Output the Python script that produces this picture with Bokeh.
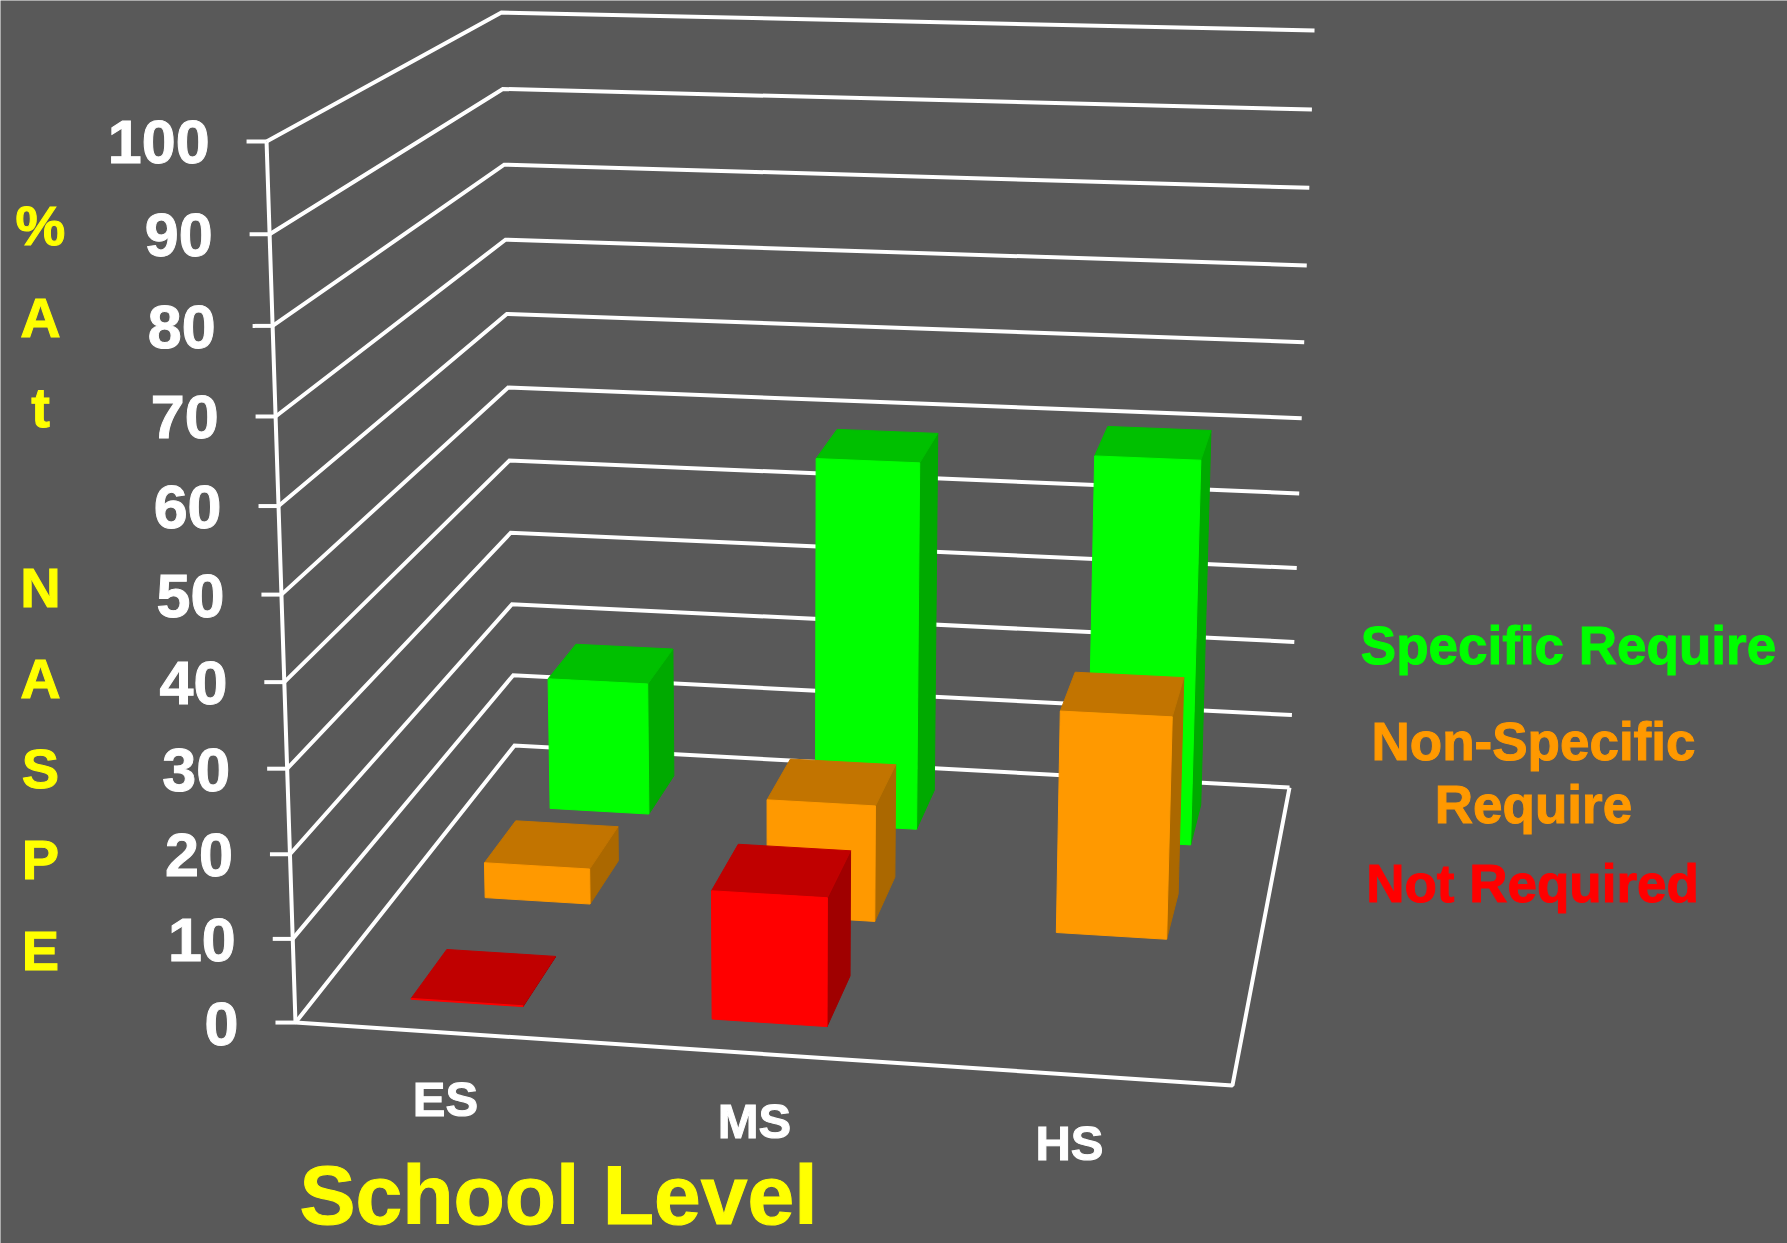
import numpy as np
from bokeh.core.properties import value
from bokeh.embed import file_html
from bokeh.models import Range1d
from bokeh.plotting import figure
from bokeh.resources import INLINE

# Chart values (percent of respondents)
school_levels = ["ES", "MS", "HS"]
specific_require = [17.6, 48.3, 50.1]
non_specific_require = [4.5, 14.6, 27.6]
not_required = [0.1, 15.3, None]
percent_ticks = list(range(0, 101, 10))
y_title_letters = ["%", "A", "t", "N", "A", "S", "P", "E"]
y_title_centres = [225, 317, 407, 587, 678, 768, 859, 950]

BG = "#595959"
WHITE = "#ffffff"
YELLOW = "#ffff00"
FONT = value("Liberation Sans")

# Series are listed from the back of the floor to the front, so nearer bars paint last
series = [
    (specific_require, 5 / 6, "#00ff00", "#00c000", "#00aa00"),
    (non_specific_require, 3 / 6, "#ff9900", "#c27400", "#ab6800"),
    (not_required, 1 / 6, "#ff0000", "#c00000", "#a00000"),
]
BAR_W = 0.125
BAR_D = 0.155

# Camera calibration: cube corners (x, depth, height) and where they land on the page
cube = [(0, 0, 0), (1, 0, 0), (1, 1, 0), (0, 1, 0), (0, 0, 1), (0, 1, 1), (1, 1, 1)]
page = [(295, 1022), (1232, 1085), (1289, 787), (514, 745), (266, 141), (501, 12), (1314, 30)]

rows, rhs = [], []
for (X, Z, Y), (u, v) in zip(cube, page):
    rows.append([X, Y, Z, 1, 0, 0, 0, 0, -u * X, -u * Y, -u * Z])
    rhs.append(u)
    rows.append([0, 0, 0, 0, X, Y, Z, 1, -v * X, -v * Y, -v * Z])
    rhs.append(v)
h = np.linalg.lstsq(np.array(rows, float), np.array(rhs, float), rcond=None)[0]
CAM = np.append(h, 1.0).reshape(3, 4)


def project(x, z, pct):
    """Map category position, depth position and percent to page coordinates."""
    a = CAM @ np.array([x, pct / 100.0, z, 1.0])
    return float(a[0] / a[2]), float(a[1] / a[2])


p = figure(
    width=1787, height=1243, output_backend="svg", toolbar_location=None,
    x_range=Range1d(0, 1787), y_range=Range1d(1243, 0),
    min_border=0, background_fill_color=BG, border_fill_color=BG, outline_line_color=None,
    x_axis_location=None, y_axis_location=None,
)
p.grid.visible = False

# Walls: front-left corner, back-left corner, back-right corner
wall_x, wall_y = [], []
for pct in percent_ticks:
    fx, fy = project(0, 0, pct)
    bx, by = project(0, 1, pct)
    rx, ry = project(1, 1, pct)
    wall_x.append([fx, bx, rx])
    wall_y.append([fy, by, ry])
p.multi_line(wall_x, wall_y, line_color=WHITE, line_width=4, line_join="miter")

# Front-left vertical and the two open floor edges
corners = [project(0, 0, 100), project(0, 0, 0), project(1, 0, 0), project(1, 1, 0)]
p.line([c[0] for c in corners], [c[1] for c in corners], line_color=WHITE, line_width=4)

# Bars as three visible faces each
for vals, zc, front, top, side in series:
    for i, v in enumerate(vals):
        if v is None:
            continue
        xc = (i + 0.5) / 3
        x0, x1 = xc - BAR_W / 2, xc + BAR_W / 2
        z0, z1 = zc - BAR_D / 2, zc + BAR_D / 2
        faces = [
            ([(x1, z0, 0), (x1, z1, 0), (x1, z1, v), (x1, z0, v)], side),
            ([(x0, z0, v), (x1, z0, v), (x1, z1, v), (x0, z1, v)], top),
            ([(x0, z0, 0), (x1, z0, 0), (x1, z0, v), (x0, z0, v)], front),
        ]
        for verts, colour in faces:
            pts = [project(*q) for q in verts]
            p.patch([q[0] for q in pts], [q[1] for q in pts], fill_color=colour, line_color=colour, line_width=1)

# Tick stubs on the front-left vertical
stub_x, stub_y = [], []
for pct in percent_ticks:
    fx, fy = project(0, 0, pct)
    stub_x.append([fx - 20, fx])
    stub_y.append([fy, fy])
p.multi_line(stub_x, stub_y, line_color=WHITE, line_width=4)

# Percent labels sit a fixed distance left of the front-left vertical
lx, ly, lt = [], [], []
for pct in percent_ticks:
    fx, fy = project(0, 0, pct)
    lx.append(fx - 57)
    ly.append(fy + 1)
    lt.append(str(pct))
p.text(lx, ly, text=lt, text_color=WHITE, text_font=FONT, text_font_style="bold", text_font_size="61px",
       text_align="right", text_baseline="middle", text_outline_color=WHITE)

# Vertical title, one letter per row
p.text([40] * len(y_title_letters), y_title_centres, text=y_title_letters, text_color=YELLOW, text_font=FONT,
       text_font_style="bold", text_font_size="56px", text_align="center", text_baseline="middle",
       text_outline_color=YELLOW)

# Category labels and axis title
p.text([445, 754, 1069], [1098, 1120, 1142], text=school_levels, text_color=WHITE, text_font=FONT,
       text_font_style="bold", text_font_size="49px", text_align="center", text_baseline="middle",
       text_outline_color=WHITE)
p.text([558], [1194], text=["School Level"], text_color=YELLOW, text_font=FONT, text_font_style="bold",
       text_font_size="84px", text_align="center", text_baseline="middle", text_outline_color=YELLOW)

# Series key
key_x = [1568, 1533, 1533, 1532]
key_y = [645, 741, 804, 883]
key_text = ["Specific Require", "Non-Specific", "Require", "Not Required"]
key_colour = ["#00ff00", "#ff9900", "#ff9900", "#ff0000"]
p.text(key_x, key_y, text=key_text, text_color=key_colour, text_font=FONT, text_font_style="bold",
       text_font_size="53px", text_align="center", text_baseline="middle", text_outline_color=key_colour)

open("out.html", "w").write(file_html(p, INLINE))
